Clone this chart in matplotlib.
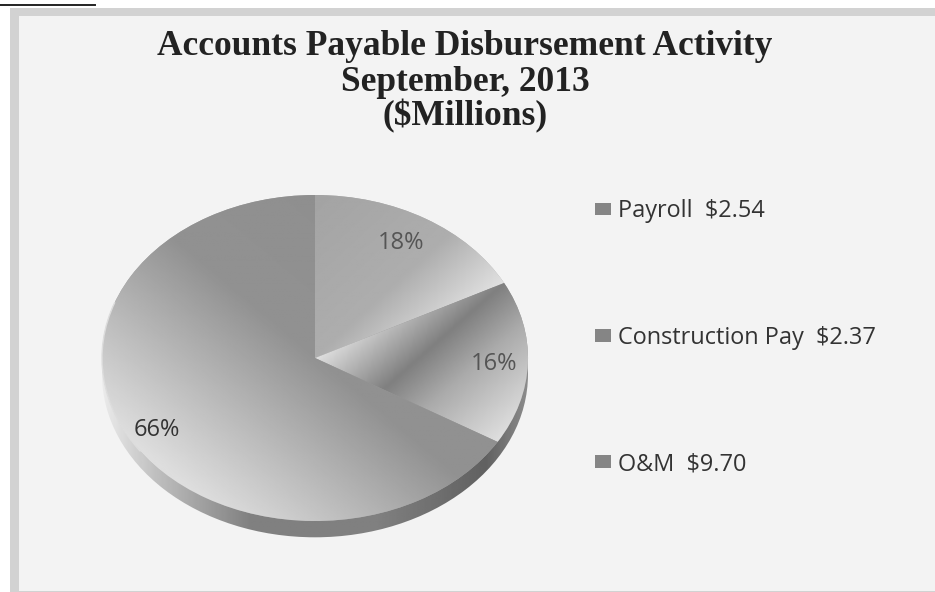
import numpy as np
import matplotlib
matplotlib.use('Agg')
import matplotlib.pyplot as plt
from matplotlib.patches import Rectangle, Circle, Patch, Arc

W, H = 935, 592

title_lines = ["Accounts Payable Disbursement Activity", "September, 2013", "($Millions)"]
categories = ["Payroll", "Construction Pay", "O&M"]
amounts = [2.54, 2.37, 9.70]
amount_labels = ["$2.54", "$2.37", "$9.70"]
pct_labels = ["18%", "16%", "66%"]

# gradient per wedge: direction (x, y) and stops (t, grey level)
wedge_dirs = [(0.6, -0.5), (0.755, -0.656), (-0.6, -0.55)]
wedge_stops = [
    ([-0.5, 0.0, 0.3, 0.7], [0.64, 0.68, 0.88, 0.90]),
    ([0.0, 0.37, 0.6, 1.0], [0.88, 0.50, 0.67, 0.88]),
    ([-0.6, 0.0, 0.4, 0.8], [0.56, 0.57, 0.72, 0.87]),
]


def px(x, y):
    return x / W, 1 - y / H


def gradient(direction, stops, n=400):
    xs = np.linspace(-1.1, 1.1, n)
    ys = np.linspace(1.1, -1.25, n)
    xx, yy = np.meshgrid(xs, ys)
    t = xx * direction[0] + yy * direction[1]
    return np.interp(t, stops[0], stops[1])


fig = plt.figure(figsize=(W / 100, H / 100), dpi=100, facecolor='white')

# page background, frame and the cut off underline at the top
bg = fig.add_axes([0, 0, 1, 1])
bg.set_xlim(0, W)
bg.set_ylim(H, 0)
bg.axis('off')
bg.add_patch(Rectangle((10, 8), W - 10, H - 8, facecolor='#d2d2d2', edgecolor='none'))
bg.add_patch(Rectangle((19, 16), W - 19, H - 17, facecolor='#f3f3f3', edgecolor='none'))
bg.plot([0, 95], [5, 5], color='#222222', lw=1.4)

# pie axes, centre (315, 358), radii 213 x 163 px
cx, cy, rx, ry = 315, 358, 213, 163
left, right = -1.02, 1.02
bottom, top = -1.15, 1.02
ax = fig.add_axes([(cx + left * rx) / W, 1 - (cy - bottom * ry) / H,
                   (right - left) * rx / W, (top - bottom) * ry / H])
ax.patch.set_alpha(0)
wedges, _ = ax.pie(amounts, startangle=90, counterclock=False, radius=1,
                   colors=['#b0b0b0', '#9a9a9a', '#a5a5a5'])
ax.set_aspect('auto')
extent = (-1.1, 1.1, -1.25, 1.1)

# rim below the pie
rim = Circle((0, -0.1), 1.0, transform=ax.transData, facecolor='none', edgecolor='none')
ax.add_patch(rim)
rim_grad = np.interp(np.linspace(-1.1, 1.1, 400),
                     [-1.0, -0.75, -0.3, 0.3, 0.8, 1.0],
                     [0.92, 0.75, 0.50, 0.50, 0.38, 0.55])
im = ax.imshow(np.tile(rim_grad, (400, 1)), cmap='gray', vmin=0, vmax=1,
               extent=extent, aspect='auto', zorder=1)
im.set_clip_path(rim)

for wedge, d, s in zip(wedges, wedge_dirs, wedge_stops):
    wedge.set_zorder(2)
    im = ax.imshow(gradient(d, s), cmap='gray', vmin=0, vmax=1,
                   extent=extent, aspect='auto', zorder=3)
    im.set_clip_path(wedge)
ax.add_patch(Arc((0, 0), 2, 2, theta1=160, theta2=215, color='#dddddd', lw=1, zorder=4))
ax.set_xlim(left, right)
ax.set_ylim(bottom, top)

# title
title_y = [55, 91, 125]
for line, y in zip(title_lines, title_y):
    x0, y0 = px(465, y)
    fig.text(x0, y0, line, family='Liberation Serif', fontweight='bold', fontsize=25.5,
             color='#222222', ha='center', va='baseline')

# percentage labels
pct_pos = [(401, 243), (494, 364), (157, 430)]
pct_colors = ['#555555', '#555555', '#333333']
for label, pos, c in zip(pct_labels, pct_pos, pct_colors):
    x0, y0 = px(*pos)
    fig.text(x0, y0, label, family='Open Sans', fontsize=17, color=c, ha='center', va='center')

# legend
handles = [Patch(facecolor='#858585', edgecolor='none') for _ in categories]
labels = [c + "  " + a for c, a in zip(categories, amount_labels)]
x0, y0 = px(586, 190)
fig.legend(handles, labels, loc='upper left', bbox_to_anchor=(x0, y0), frameon=False,
           prop={'family': 'Open Sans', 'size': 16.9}, labelcolor='#333333',
           labelspacing=4.36, handlelength=0.65, handleheight=0.45, handletextpad=0.3,
           borderaxespad=0, borderpad=0.4)

fig.savefig('out.png', dpi=100)
